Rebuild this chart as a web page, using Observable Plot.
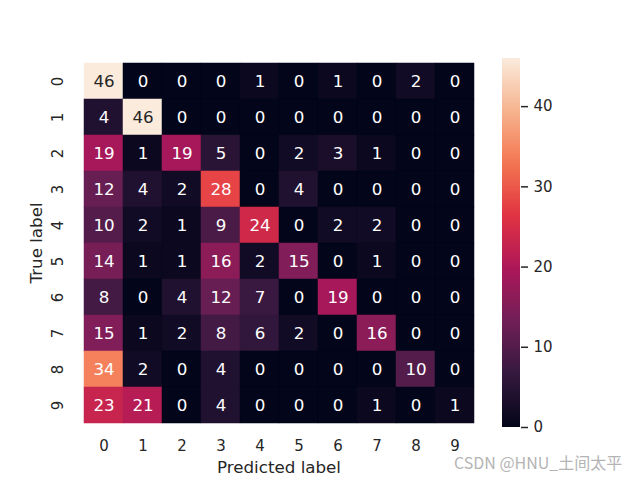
<!DOCTYPE html>
<html>
<head>
<meta charset="utf-8">
<script src="https://cdn.jsdelivr.net/npm/d3@7"></script>
<script src="https://cdn.jsdelivr.net/npm/@observablehq/plot@0.6"></script>
<style>
  body { margin: 0; background: white; }
  #wrap { position: relative; width: 640px; height: 480px; }
  #wrap svg { position: absolute; left: 0; top: 0; }
  #mark { position: absolute; left: 454px; top: 450px; font-family: "Noto Sans CJK SC", "DejaVu Sans", sans-serif; font-size: 16px; color: #b4b4b4; white-space: nowrap; }
</style>
</head>
<body>
<div id="wrap"><div id="mark">CSDN @HNU_土间太平</div></div>
<script>
const predictedLabels = ["0","1","2","3","4","5","6","7","8","9"];
const trueLabels = ["0","1","2","3","4","5","6","7","8","9"];
const row0 = [46, 0, 0, 0, 1, 0, 1, 0, 2, 0];
const row1 = [4, 46, 0, 0, 0, 0, 0, 0, 0, 0];
const row2 = [19, 1, 19, 5, 0, 2, 3, 1, 0, 0];
const row3 = [12, 4, 2, 28, 0, 4, 0, 0, 0, 0];
const row4 = [10, 2, 1, 9, 24, 0, 2, 2, 0, 0];
const row5 = [14, 1, 1, 16, 2, 15, 0, 1, 0, 0];
const row6 = [8, 0, 4, 12, 7, 0, 19, 0, 0, 0];
const row7 = [15, 1, 2, 8, 6, 2, 0, 16, 0, 0];
const row8 = [34, 2, 0, 4, 0, 0, 0, 0, 10, 0];
const row9 = [23, 21, 0, 4, 0, 0, 0, 1, 0, 1];
const colorbarTicks = [0, 10, 20, 30, 40];
const vmin = 0, vmax = 46;

const rows = [row0,row1,row2,row3,row4,row5,row6,row7,row8,row9];
const cells = rows.flatMap((r, i) => r.map((v, j) => ({t: trueLabels[i], p: predictedLabels[j], v})));

// rocket colormap stops
const rocket = ["#03051a", "#35193e", "#701f57", "#ad1759", "#e13342", "#f37651", "#f6b48f", "#faebdd"];
const stops = rocket.map((c, i) => vmin + (vmax - vmin) * i / (rocket.length - 1));
const colorFn = d3.scaleLinear().domain(stops).range(rocket).interpolate(d3.interpolateRgb);
function lum(c) {
  const o = d3.rgb(c);
  const f = x => { x /= 255; return x <= 0.03928 ? x / 12.92 : Math.pow((x + 0.055) / 1.055, 2.4); };
  return 0.2126 * f(o.r) + 0.7152 * f(o.g) + 0.0722 * f(o.b);
}
const isLight = d => lum(colorFn(d.v)) > 0.408;

const colorScale = {type: "linear", domain: stops, range: rocket, interpolate: "rgb"};
const font = "DejaVu Sans";
const ink = "#262626";

const main = Plot.plot({
  width: 640, height: 480,
  marginLeft: 80, marginRight: 163, marginTop: 58, marginBottom: 53,
  style: {fontFamily: font, fontSize: "15px", color: ink, background: "white"},
  x: {domain: predictedLabels, padding: 0, axis: null},
  y: {domain: trueLabels, padding: 0, axis: null},
  color: colorScale,
  marks: [
    Plot.cell(cells, {x: "p", y: "t", fill: "v", stroke: "v", strokeWidth: 0.5}),
    Plot.text(cells.filter(d => !isLight(d)), {x: "p", y: "t", text: d => String(d.v), fill: "white", fontSize: 16.7}),
    Plot.text(cells.filter(isLight), {x: "p", y: "t", text: d => String(d.v), fill: ink, fontSize: 16.7}),
    Plot.text(predictedLabels, {x: d => d, frameAnchor: "bottom", dy: 19, textAnchor: "middle", lineAnchor: "middle", fontSize: 15, fill: ink}),
    Plot.text(trueLabels, {y: d => d, frameAnchor: "left", dx: -22.5, rotate: -90, textAnchor: "middle", lineAnchor: "middle", fontSize: 15, fill: ink}),
    Plot.text(["Predicted label"], {frameAnchor: "bottom", dy: 40, textAnchor: "middle", lineAnchor: "middle", fontSize: 16.7, fill: ink}),
    Plot.text(["True label"], {frameAnchor: "left", dx: -44, rotate: -90, textAnchor: "middle", lineAnchor: "middle", fontSize: 16.7, fill: ink})
  ]
});

const gradient = d3.range(0, 460).map(i => ({a: vmin + (vmax - vmin) * i / 460, b: vmin + (vmax - vmin) * (i + 1.5) / 460}));
const bar = Plot.plot({
  width: 640, height: 480,
  marginLeft: 502, marginRight: 120, marginTop: 58, marginBottom: 53,
  style: {fontFamily: font, fontSize: "15px", color: ink, background: "transparent"},
  y: {domain: [vmin, vmax], axis: null, clamp: true},
  color: colorScale,
  marks: [
    Plot.rect(gradient, {y1: "a", y2: d => Math.min(d.b, vmax), fill: "a", shapeRendering: "crispEdges"}),
    Plot.axisY({anchor: "right", ticks: colorbarTicks, tickSize: 7, tickPadding: 6, strokeWidth: 1.5, label: null, fontSize: 15, fill: ink, stroke: ink})
  ]
});

const wrap = document.getElementById("wrap");
wrap.insertBefore(bar, wrap.firstChild);
wrap.insertBefore(main, wrap.firstChild);
</script>
</body>
</html>
